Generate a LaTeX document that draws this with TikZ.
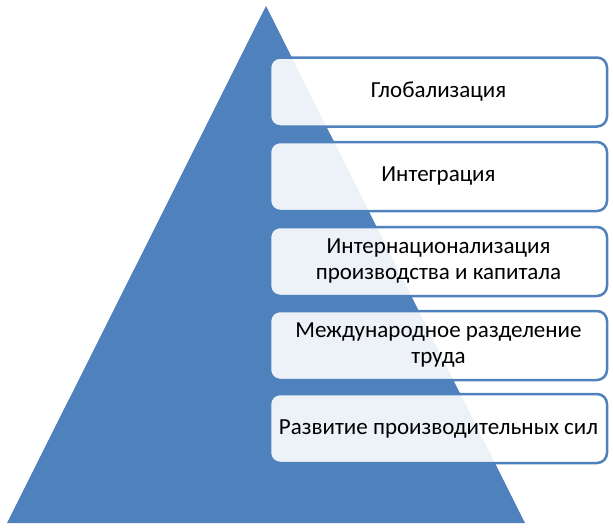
\documentclass[tikz,border=0pt]{standalone}
\usepackage{fontspec}
\setmainfont{Carlito}
\definecolor{tri}{HTML}{4F81BD}
\begin{document}
\begin{tikzpicture}[x=1pt,y=-1pt,
  lvl/.style={draw=tri, line width=2.5pt, fill=white, fill opacity=0.9, text opacity=1,
    rounded corners=10pt, minimum width=337pt, minimum height=69pt, align=center,
    font=\fontsize{23}{26}\selectfont, inner sep=2pt}]
\useasboundingbox (0,0) rectangle (613,528);
\fill[tri] (266,6) coordinate (apex) -- (525,523) coordinate (br) -- (7,523) coordinate (bl) -- cycle;
\node[lvl] (b1) at (438.5,92) {Глобализация};
\node[lvl] (b2) at (438.5,176.5) {Интеграция};
\node[lvl] (b3) at (438.5,261.5) {Интернационализация\\производства и капитала};
\node[lvl] (b4) at (438.5,345.5) {Международное разделение\\труда};
\node[lvl] (b5) at (438.5,428.5) {Развитие производительных сил};
\end{tikzpicture}
\end{document}
